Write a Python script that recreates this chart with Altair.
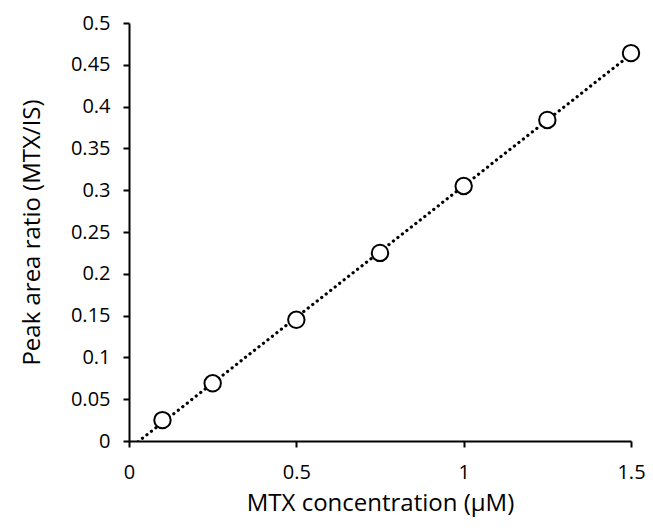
import altair as alt
import pandas as pd

conc = [0.1, 0.25, 0.5, 0.75, 1.0, 1.25, 1.5]
ratio = [0.025, 0.069, 0.145, 0.225, 0.305, 0.384, 0.464]
x_ticks = [0, 0.5, 1, 1.5]
y_ticks = [0, 0.05, 0.1, 0.15, 0.2, 0.25, 0.3, 0.35, 0.4, 0.45, 0.5]

df = pd.DataFrame({"conc": conc, "ratio": ratio})

FONT = "Open Sans"

x_enc = alt.X(
    "conc:Q",
    scale=alt.Scale(domain=[0, 1.5], nice=False, zero=False),
    axis=alt.Axis(
        title="MTX concentration (μM)",
        values=x_ticks,
        labelExpr="format(datum.value, '')",
        grid=False,
        labelFlush=False,
        labelPadding=15,
        titlePadding=9,
    ),
)
y_enc = alt.Y(
    "ratio:Q",
    scale=alt.Scale(domain=[0, 0.5], nice=False),
    axis=alt.Axis(
        title="Peak area ratio (MTX/IS)",
        values=y_ticks,
        labelExpr="format(datum.value, '')",
        grid=False,
        labelFlush=False,
        labelPadding=13,
        titlePadding=26,
    ),
)

trend = (
    alt.Chart(df)
    .transform_regression("conc", "ratio", method="linear", extent=[0, 1.5])
    .mark_line(
        color="black",
        strokeWidth=3.2,
        strokeCap="round",
        strokeDash=[0.1, 5.6],
        clip=True,
    )
    .encode(x=x_enc, y=y_enc)
)

pts = (
    alt.Chart(df)
    .mark_point(
        shape="circle",
        filled=True,
        fill="white",
        stroke="black",
        strokeWidth=2,
        size=270,
        opacity=1,
    )
    .encode(x=x_enc, y=y_enc)
)

chart = (
    alt.layer(trend, pts)
    .properties(
        width=502,
        height=418,
        autosize=alt.AutoSizeParams(type="none"),
        padding={"left": 121, "top": 15, "right": 14, "bottom": 76},
    )
    .configure_view(stroke=None)
    .configure_axis(
        domainColor="black",
        domainWidth=2,
        tickColor="black",
        tickWidth=2,
        tickSize=6,
        labelFont=FONT,
        labelFontSize=20,
        labelColor="black",
        titleFont=FONT,
        titleFontSize=24,
        titleFontWeight="normal",
        titleColor="black",
    )
)

chart.save("out.html", embed_options={"renderer": "svg", "actions": False})
